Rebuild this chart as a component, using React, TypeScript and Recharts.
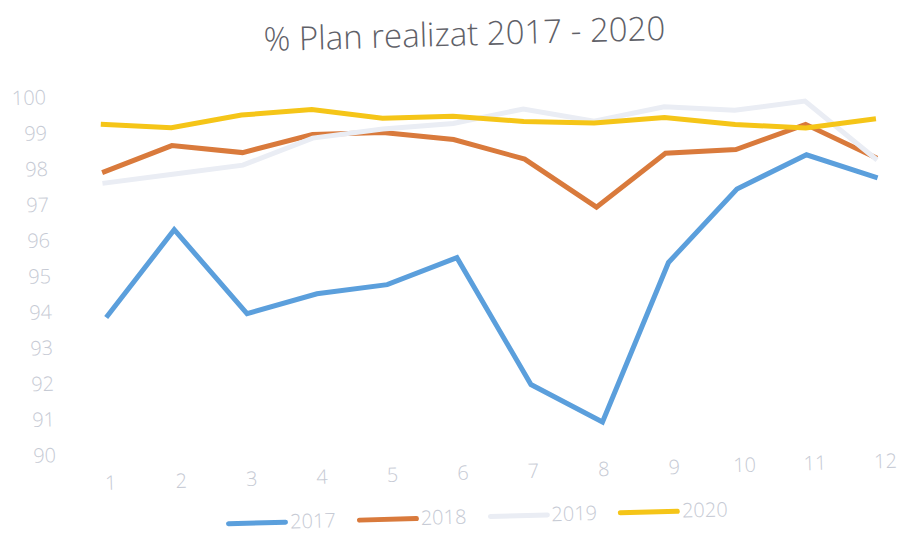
import React from 'react';
import { LineChart, Line, XAxis, YAxis } from 'recharts';

const months = ['1', '2', '3', '4', '5', '6', '7', '8', '9', '10', '11', '12'];
const plan2017 = [93.8, 96.2, 93.8, 94.3, 94.5, 95.2, 91.6, 90.5, 94.9, 96.9, 97.8, 97.1];
const plan2018 = [97.85, 98.55, 98.3, 98.75, 98.75, 98.5, 97.9, 96.5, 97.95, 98.0, 98.65, 97.65];
const plan2019 = [97.55, 97.75, 97.95, 98.65, 98.85, 98.95, 99.3, 98.9, 99.25, 99.1, 99.3, 97.6];
const plan2020 = [99.2, 99.05, 99.35, 99.45, 99.15, 99.15, 98.95, 98.85, 98.95, 98.7, 98.55, 98.75];
const yTicks = [90, 91, 92, 93, 94, 95, 96, 97, 98, 99, 100];

const series = [
  { key: '2017', values: plan2017, color: '#5b9fdc' },
  { key: '2018', values: plan2018, color: '#d97a3c' },
  { key: '2019', values: plan2019, color: '#eaedf4' },
  { key: '2020', values: plan2020, color: '#f5c518' },
];

const data = months.map((m, i) => {
  const row: Record<string, string | number> = { month: m };
  series.forEach((s) => { row[s.key] = s.values[i]; });
  return row;
});

const tickStyle = { fill: '#c6cad4', fontSize: 20, fontWeight: 300 };

export default function App() {
  return (
    <div style={{ position: 'absolute', left: 0, top: 0, width: 901, height: 540, overflow: 'hidden', background: '#fff', fontFamily: '"Open Sans", sans-serif' }}>
      <div style={{ position: 'relative', width: 901, height: 540, transform: 'rotate(-1.6deg)', transformOrigin: '450px 270px' }}>
        {/* title */}
        <div style={{ position: 'absolute', top: 11, left: 0, width: 942, textAlign: 'center', fontSize: 33, fontWeight: 300, color: '#5f6168', whiteSpace: 'nowrap' }}>
          % Plan realizat 2017 - 2020
        </div>
        <LineChart width={901} height={540} data={data} margin={{ top: 86, right: 21, bottom: 56, left: 0 }}>
          <XAxis
            dataKey="month"
            axisLine={false}
            tickLine={false}
            tick={tickStyle}
            tickMargin={16}
            height={40}
            padding={{ left: 36, right: 0 }}
            interval={0}
          />
          <YAxis
            domain={[90, 100]}
            ticks={yTicks}
            axisLine={false}
            tickLine={false}
            tick={tickStyle}
            tickMargin={12}
            width={69}
            interval={0}
          />
          {series.map((s) => (
            <Line
              key={s.key}
              type="linear"
              dataKey={s.key}
              stroke={s.color}
              strokeWidth={5}
              dot={false}
              isAnimationActive={false}
            />
          ))}
        </LineChart>
        {/* legend */}
        <div style={{ position: 'absolute', top: 505, left: 0, width: 940, display: 'flex', justifyContent: 'center', alignItems: 'center', gap: 21 }}>
          {series.map((s) => (
            <div key={s.key} style={{ display: 'flex', alignItems: 'center', gap: 2 }}>
              <div style={{ width: 62, height: 5, borderRadius: 3, background: s.color }} />
              <span style={{ fontSize: 20, fontWeight: 300, color: '#c6cad4', lineHeight: '24px' }}>{s.key}</span>
            </div>
          ))}
        </div>
      </div>
    </div>
  );
}
